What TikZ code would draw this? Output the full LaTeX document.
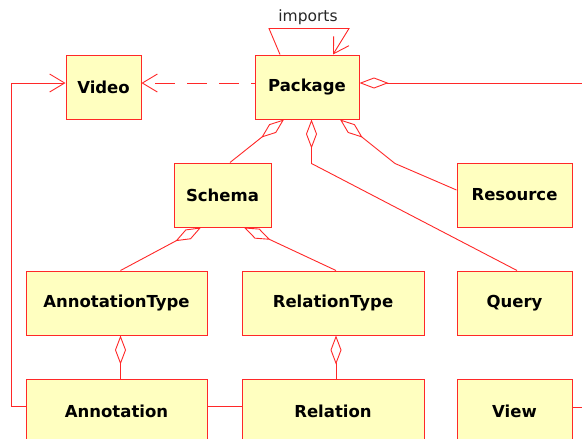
\documentclass[tikz,border=0pt]{standalone}
\usepackage{fontspec}
\setmainfont{DejaVu Sans}
\usetikzlibrary{arrows.meta}
\definecolor{umlred}{RGB}{255,40,40}
\definecolor{umlfill}{RGB}{255,255,192}
\definecolor{lbl}{RGB}{40,40,40}
\tikzset{
  cls/.style={draw=umlred, fill=umlfill, line width=1pt, minimum height=64pt, inner sep=0pt,
    font=\fontsize{16.5}{18}\selectfont\bfseries, text=black},
  conn/.style={draw=umlred, line width=0.9pt},
  agg/.style={conn, {Diamond[open,length=29pt,width=11pt]}-},
  nav/.style={conn, -{Straight Barb[length=15pt,width=18pt]}},
}
\begin{document}
\begin{tikzpicture}[x=1pt,y=-1pt]
\clip (0,0) rectangle (582,439);
\fill[white] (0,0) rectangle (582,439);
\node[cls, minimum width=75pt]  (video)          at (103.5,87) {Video};
\node[cls, minimum width=104pt] (package)        at (307,87)   {Package};
\node[cls, minimum width=97pt]  (schema)         at (222.5,195) {Schema};
\node[cls, minimum width=115pt] (resource)       at (514.5,195) {Resource};
\node[cls, minimum width=181pt] (annotationtype) at (116.5,303) {AnnotationType};
\node[cls, minimum width=182pt] (relationtype)   at (333,303)   {RelationType};
\node[cls, minimum width=115pt] (query)          at (514.5,303) {Query};
\node[cls, minimum width=181pt] (annotation)     at (116.5,411) {Annotation};
\node[cls, minimum width=182pt] (relation)       at (333,411)   {Relation};
\node[cls, minimum width=115pt] (view)           at (514.5,411) {View};
\coordinate (rightedge) at (592,83);
\coordinate (viewout) at (592,407);

% package aggregations
\draw[agg] ([xshift=-23pt]package.south) -- ([xshift=7.5pt]schema.north);
\draw[agg] ([xshift=4.5pt]package.south) -- ++(0,44) -- ([xshift=2.5pt]query.north);
\draw[agg] ([xshift=33pt]package.south) -- ++(55,44) -- ([yshift=5pt]resource.west);
\draw[agg] ([yshift=4pt]package.east) -- (rightedge);
% schema aggregations
\draw[agg] ([xshift=-21.5pt]schema.south) -- ([xshift=4pt]annotationtype.north);
\draw[agg] ([xshift=21.5pt]schema.south) -- ([xshift=3pt]relationtype.north);
\draw[agg] ([xshift=4pt]annotationtype.south) -- ([xshift=4pt]annotation.north);
\draw[agg] ([xshift=3pt]relationtype.south) -- ([xshift=3pt]relation.north);
% plain links
\draw[conn] ([yshift=5pt]annotation.east) -- ([yshift=5pt]relation.west);
\draw[conn] ([yshift=4pt]view.east) -- (viewout);
\draw[nav] ([yshift=5pt]annotation.west) -- ++(-14,0) |- ([yshift=4pt]video.west);
\draw[nav, dash pattern=on 20pt off 12pt, dash phase=16pt] ([yshift=4pt]package.west) -- ([yshift=4pt]video.east);
% imports self loop
\draw[nav] ([xshift=-27pt]package.north) -- ++(-11,-26) -- ++(80,0) -- ([xshift=26pt]package.north);
\node[font=\fontsize{15.5}{17}\selectfont, text=lbl] (imports) at (308,17) {imports};
\end{tikzpicture}
\end{document}
